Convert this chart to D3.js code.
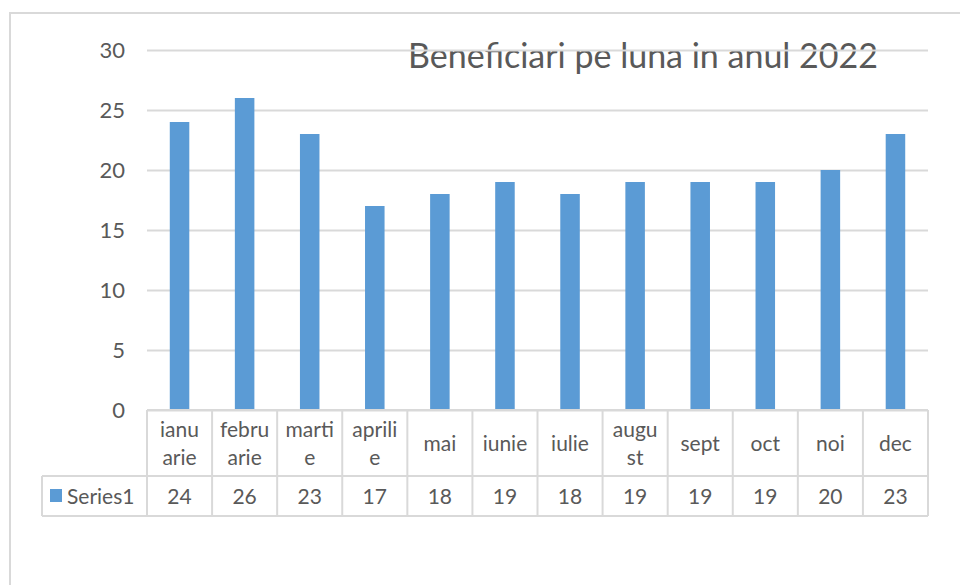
<!DOCTYPE html>
<html>
<head>
<meta charset="utf-8">
<script src="https://cdn.jsdelivr.net/npm/d3@7"></script>
<style>
  body { margin: 0; background: #fff; }
  svg { display: block; font-family: Lato, "Open Sans", sans-serif; }
</style>
</head>
<body>
<div id="chart"></div>
<script>
// data
const months = ['ianuarie', 'februarie', 'martie', 'aprilie', 'mai', 'iunie', 'iulie', 'august', 'sept', 'oct', 'noi', 'dec'];
// how the month labels wrap in the table cells
const monthLines = [['ianu', 'arie'], ['febru', 'arie'], ['marti', 'e'], ['aprili', 'e'], ['mai'], ['iunie'], ['iulie'], ['augu', 'st'], ['sept'], ['oct'], ['noi'], ['dec']];
const values = [24, 26, 23, 17, 18, 19, 18, 19, 19, 19, 20, 23];
const yTicks = [0, 5, 10, 15, 20, 25, 30];
const seriesName = 'Series1';
const title = 'Beneficiari pe luna in anul 2022';

const width = 960, height = 585;
const plot = { left: 147, right: 928, top: 50, bottom: 410 };
const row1 = 66, row2 = 40;   // table row heights
const tableLeft = 42;
const gridColor = '#d9d9d9';
const textColor = '#595959';
const barColor = '#5b9bd5';
const fontSize = '21px';

const svg = d3.select('#chart').append('svg')
  .attr('width', width)
  .attr('height', height);

// outer frame (cropped chart area)
svg.append('path')
  .attr('d', `M10,${height} V13 H${width}`)
  .attr('fill', 'none')
  .attr('stroke', gridColor)
  .attr('stroke-width', 2);

const x = d3.scaleBand()
  .domain(months)
  .range([plot.left, plot.right])
  .paddingInner(0.7)
  .paddingOuter(0.35);

const xCell = d3.scaleBand()
  .domain(months)
  .range([plot.left, plot.right]);

const y = d3.scaleLinear()
  .domain([0, 30])
  .range([plot.bottom, plot.top]);

// title (sits under the gridlines, like in the excel chart)
svg.append('text')
  .attr('x', 643)
  .attr('y', 68)
  .attr('text-anchor', 'middle')
  .attr('fill', textColor)
  .style('font-size', '34px')
  .text(title);

// gridlines + y labels
const yAxis = svg.append('g')
  .attr('transform', `translate(${plot.left},0)`)
  .call(d3.axisLeft(y).tickValues(yTicks).tickSize(-(plot.right - plot.left)).tickPadding(22));
yAxis.select('.domain').remove();
yAxis.selectAll('.tick line').attr('stroke', gridColor).attr('stroke-width', 2);
yAxis.selectAll('.tick text')
  .attr('fill', textColor)
  .style('font-size', '22px')
  .style('font-family', 'Lato, "Open Sans", sans-serif');

// bars
svg.selectAll('.bar')
  .data(values)
  .join('rect')
  .attr('class', 'bar')
  .attr('x', (d, i) => x(months[i]))
  .attr('y', d => y(d))
  .attr('width', x.bandwidth())
  .attr('height', d => y(0) - y(d))
  .attr('fill', barColor);

// data table
const table = svg.append('g');
const t0 = plot.bottom, t1 = t0 + row1, t2 = t1 + row2;

// horizontal lines
table.append('line').attr('x1', plot.left).attr('x2', plot.right).attr('y1', t0).attr('y2', t0);
table.append('line').attr('x1', tableLeft).attr('x2', plot.right).attr('y1', t1).attr('y2', t1);
table.append('line').attr('x1', tableLeft).attr('x2', plot.right).attr('y1', t2).attr('y2', t2);
// vertical lines
table.append('line').attr('x1', tableLeft).attr('x2', tableLeft).attr('y1', t1).attr('y2', t2);
table.selectAll('.vline')
  .data(months.concat(['end']))
  .join('line')
  .attr('class', 'vline')
  .attr('x1', (d, i) => i < months.length ? xCell(d) : plot.right)
  .attr('x2', (d, i) => i < months.length ? xCell(d) : plot.right)
  .attr('y1', t0)
  .attr('y2', t2);
table.selectAll('line').attr('stroke', gridColor).attr('stroke-width', 2);

// month labels
const lineH = 28;
table.selectAll('.cat')
  .data(monthLines)
  .join('text')
  .attr('class', 'cat')
  .attr('text-anchor', 'middle')
  .attr('fill', textColor)
  .style('font-size', fontSize)
  .each(function(lines, i) {
    const cx = xCell(months[i]) + xCell.bandwidth() / 2;
    const startY = t0 + row1 / 2 + 8 - (lines.length - 1) * lineH / 2;
    d3.select(this).selectAll('tspan')
      .data(lines)
      .join('tspan')
      .attr('x', cx)
      .attr('y', (d, j) => startY + j * lineH)
      .text(d => d);
  });

// values row
table.selectAll('.val')
  .data(values)
  .join('text')
  .attr('class', 'val')
  .attr('x', (d, i) => xCell(months[i]) + xCell.bandwidth() / 2)
  .attr('y', t1 + row2 / 2 + 8)
  .attr('text-anchor', 'middle')
  .attr('fill', textColor)
  .style('font-size', fontSize)
  .text(d => d);

// legend key
table.append('rect')
  .attr('x', 50).attr('y', t1 + 13)
  .attr('width', 12).attr('height', 13)
  .attr('fill', barColor);
table.append('text')
  .attr('x', 67).attr('y', t1 + row2 / 2 + 8)
  .attr('fill', textColor)
  .style('font-size', fontSize)
  .text(seriesName);
</script>
</body>
</html>
